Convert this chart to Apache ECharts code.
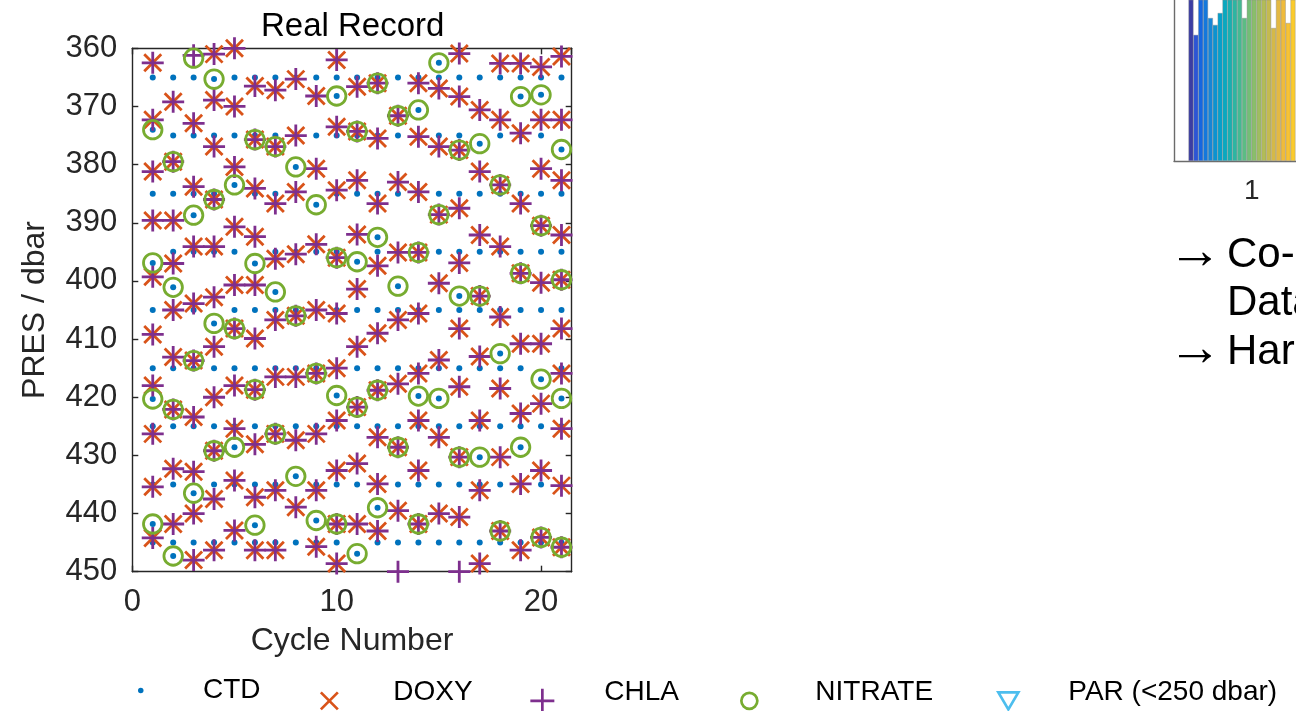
<!DOCTYPE html>
<html><head><meta charset="utf-8">
<script src="https://cdn.jsdelivr.net/npm/echarts@6/dist/echarts.min.js"></script>
<style>html,body{margin:0;padding:0;background:#fff}#c{width:1296px;height:711px}</style>
</head><body><div id="c"></div>
<script>
// ---------------- data ----------------
const cycles = [1,2,3,4,5,6,7,8,9,10,11,12,13,14,15,16,17,18,19,20,21];
const ctdPres = [
 [365,374,385,396.9,405,415,420.3,425,435,441.8,445],
 [365,375,385,395,401.1,405,415,425,435,445,447.3],
 [365,375,385,388.7,395,405,415,425,436.5,445],
 [365.3,375,385,395,407.3,415,425,435,445],
 [365,375,383.5,395,405,415,425,428.6,435,445],
 [365,375,385,397,405,415,425,435,442,445],
 [365,375,385,395,401.9,405,415,425,435,445],
 [365,375,380.4,385,395,405,415,425,433.6,445],
 [365,375,386.9,395,405,415,425,435,441.2,445],
 [365,368.2,375,385,395,405,415,419.7,425,435,445],
 [365,375,385,396.7,405,415,425,435,446.9],
 [365,375,385,392.5,395,405,415,425,435,439,445],
 [365,375,385,395,400.9,405,415,425,435,445],
 [365,370.6,375,385,395,405,415,419.8,425,435,445],
 [362.5,365,375,385,395,405,415,420.2,425,435,445],
 [365,375,385,395,402.6,405,415,425,435,445],
 [365,376.4,385,395,405,415,425,430.3,435,445],
 [365,375,385,395,405,412.5,415,425,435,445],
 [365,368.3,375,385,395,405,415,425,428.6,435,445],
 [365,368,375,385,395,405,416.9,425,435,445],
 [365,377.4,385,395,405,415,420.2,425,435,445]
];
const doxyPres = [
 [362.5,372.3,381.2,389.6,399.3,409.2,418,426.3,435.4,444.2],
 [369.2,379.5,389.6,397,405,413.1,422.1,432.3,441.8],
 [372.9,383.8,394.1,403.9,413.7,423.4,432.8,440,448],
 [361,368.9,376.9,386,394.1,402.8,411.3,420,429.2,437.5,446.3],
 [360,370,380.4,390.7,400.7,408.2,418,425.4,434.3,442.9],
 [366.5,375.7,384.1,392.4,400.7,409.9,418.7,428.1,437.2,446.3],
 [367.2,376.9,386.7,396.2,406.7,416.5,426.3,436,446.3],
 [365.3,375,384.7,395.4,406,416.5,427.4,438.9],
 [368.2,380.7,393.7,405,415.9,426.3,436,445.7],
 [362,373.5,384.4,396,405.6,415,424,432.6,441.8,448.6],
 [366.6,374.3,382.7,392,401.4,411.3,421.7,431.4,441.8],
 [366,375.5,386.7,397.4,409,418.8,426.9,434.9,443],
 [371.6,383,395.1,406.7,417.7,428.6,439.5],
 [366,375.2,384.7,395.1,405.6,415.9,424,432.6,441.8],
 [366.9,376.9,388.6,400.4,413.6,426.9,440],
 [360.9,368.3,377.5,387.5,396.9,408.2,418.2,430.3,440.6],
 [370.6,381.2,392.1,402.6,413,424,436,448.6],
 [362.6,372.3,383.5,394.1,406.2,418.5,430.3,443],
 [362.6,374.6,386.7,398.7,410.8,422.8,434.9,446.3],
 [363.2,372.3,380.7,390.5,400.3,410.8,421.1,432.6,444.1],
 [361.4,372.3,382.7,392.1,399.8,408.2,415.9,425.4,435.2,445.8]
];
const chlaPres = [
 [362.5,372.3,381.2,389.6,399.3,409.2,418,426.3,435.4,444.2],
 [369.2,379.5,389.6,397,405,413.1,422.1,432.3,441.8],
 [361.2,372.9,383.8,394.1,403.9,413.7,423.4,432.8,440,448],
 [361,368.9,376.9,386,394.1,402.8,411.3,420,429.2,437.5,446.3],
 [360,370,380.4,390.7,400.7,408.2,418,425.4,434.3,442.9],
 [366.5,375.7,384.1,392.4,400.7,409.9,418.7,428.1,437.2,446.3],
 [367.2,376.9,386.7,396.2,406.7,416.5,426.3,436,446.3],
 [365.3,375,384.7,395.4,406,416.5,427.4,438.9],
 [368.2,380.7,393.7,405,415.9,426.3,436,445.7],
 [362,373.5,384.4,396,405.6,415,424,432.6,441.8,448.6],
 [366.6,374.3,382.7,392,401.4,411.3,421.7,431.4,441.8],
 [366,375.5,386.7,397.4,409,418.8,426.9,434.9,443],
 [371.6,383,395.1,406.7,417.7,428.6,439.5,450],
 [366,375.2,384.7,395.1,405.6,415.9,424,432.6,441.8],
 [366.9,376.9,388.6,400.4,413.6,426.9,440],
 [360.9,368.3,377.5,387.5,396.9,408.2,418.2,430.3,440.6,450],
 [370.6,381.2,392.1,402.6,413,424,436,448.6],
 [362.6,372.3,383.5,394.1,406.2,418.5,430.3,443],
 [362.6,374.6,386.7,398.7,410.8,422.8,434.9,446.3],
 [363.2,372.3,380.7,390.5,400.3,410.8,421.1,432.6,444.1],
 [361.4,372.3,382.7,392.1,399.8,408.2,415.9,425.4,435.2,445.8]
];
const nitratePres = [
 [374,396.9,420.3,441.8],
 [379.5,401.1,422.1,447.3],
 [361.7,388.7,413.7,436.5],
 [365.3,386,407.3,429.2],
 [383.5,408.2,428.6],
 [375.7,397,418.7,442],
 [376.9,401.9,426.3],
 [380.4,406,433.6],
 [386.9,415.9,441.2],
 [368.2,396,419.7,441.8],
 [374.3,396.7,421.7,446.9],
 [366,392.5,418.8,439],
 [371.6,400.9,428.6],
 [370.6,395.1,419.8,441.8],
 [362.5,388.6,420.2],
 [377.5,402.6,430.3],
 [376.4,402.6,430.3],
 [383.5,412.5,443],
 [368.3,398.7,428.6],
 [368,390.5,416.9,444.1],
 [377.4,399.8,420.2,445.8]
];
const parPres = []; // PAR only sampled above 250 dbar: none in 360-450
const seriesNames = ['CTD','DOXY','CHLA','NITRATE','PAR (<250 dbar)'];
const yTickLabels = [360,370,380,390,400,410,420,430,440,450];
const xTickLabels = [0,10,20];

// clipped neighbouring histogram (right edge of slide)
const histBinCenters = [0.21875,0.28125,0.34375,0.40625,0.46875,0.53125,0.59375,0.65625,0.71875,0.78125,0.84375,0.90625,0.96875,1.03125,1.09375,1.15625,1.21875,1.28125,1.34375,1.40625,1.46875,1.53125];
const histCounts = [110,78.3,110,110,88.8,84.5,91.9,110,110,110,110,88.8,110,110,110,110,110,82.6,110,110,85.7,110];
const histColors = ['#3b3da3','#2c55d6','#1567e0','#1378dc','#1686d6','#0b93d0','#05a0cb','#08a9c0','#19afb1','#2db5a2','#44b992','#5cbc84','#74be76','#8abe6a','#9fbd60','#b2bc57','#c4ba4f','#d4b948','#e3b942','#efbb3c','#f7c234','#fbcb2c'];

// ---------------- build ----------------
function pairs(list){ const out=[]; list.forEach((ps,i)=>ps.forEach(p=>out.push([cycles[i],p]))); return out; }
const FONT = "'Liberation Sans', Arial, Helvetica, sans-serif";
const C = {ctd:'#0072BD', doxy:'#D95319', chla:'#7E2F8E', nit:'#77AC30', par:'#4DBEEE'};
const AX = '#262626';
const SYM = {
  x: 'path://M0,0L10,10M10,0L0,10',
  plus: 'path://M5,0L5,10M0,5L10,5',
  tri: 'path://M0,0L20,0L10,17Z'
};
// legend icons: same shapes with blank headroom so the label sits a little higher than the marker
const LEG = {
  x: 'path://M0,0M0,10.59L10,20.59M10,10.59L0,20.59',
  plus: 'path://M5,0M5,7.5L5,17.5M0,12.5L10,12.5',
  circ: 'path://M5,0M0,16.25A5,5 0 1,0 10,16.25A5,5 0 1,0 0,16.25Z',
  tri: 'path://M10,0M0,18L20,18L10,35Z'
};
const chart = echarts.init(document.getElementById('c'), null, {renderer:'canvas'});
const gridL = 132.3, gridT = 48.3, gridW = 439.4, gridH = 523.4;

function mkLegend(name, icon, color, left, top, itemWidth, itemHeight){
  const item = {name:name};
  if (icon) { item.icon = icon; item.itemStyle = {color:'transparent', borderColor:color, borderWidth:2.7, opacity:1}; }
  else { item.itemStyle = {color:color, borderWidth:0, opacity:1}; }
  return {
    data:[item], left:left, top:top, padding:0, itemWidth:itemWidth, itemHeight:itemHeight,
    selectedMode:false, orient:'horizontal',
    textStyle:{fontSize:28, lineHeight:28, color:'#000', fontFamily:FONT}
  };
}

const option = {
  animation:false,
  backgroundColor:'#fff',
  title:{text:'Real Record', left:261, top:10, padding:0,
    textStyle:{fontSize:33, lineHeight:33, fontWeight:'normal', color:'#000', fontFamily:FONT}},
  legend:[
    mkLegend('CTD', null, C.ctd, 138, 676.5, 114.6, 5.5),
    mkLegend('DOXY', LEG.x, C.doxy, 319.5, 673, 118, 35),
    mkLegend('CHLA', LEG.plus, C.chla, 529, 669.5, 114, 42),
    mkLegend('NITRATE', LEG.circ, C.nit, 740, 673.5, 122, 34),
    mkLegend('PAR (<250 dbar)', LEG.tri, C.par, 997, 673, 110, 35)
  ],
  grid:[
    {left:gridL, top:gridT, width:gridW, height:gridH, containLabel:false},
    {left:1174, top:0, right:0, height:161, containLabel:false}
  ],
  xAxis:[
    {gridIndex:0, type:'value', min:0, max:21.5, interval:10, position:'bottom',
     name:'Cycle Number', nameLocation:'middle', nameGap:53.5,
     nameTextStyle:{fontSize:32, lineHeight:32, color:AX, fontFamily:FONT},
     axisLine:{onZero:false, lineStyle:{color:AX, width:1.4}},
     axisTick:{inside:true, length:6, lineStyle:{color:AX, width:1.4}},
     axisLabel:{fontSize:31, lineHeight:31, color:AX, fontFamily:FONT, margin:15.5, showMaxLabel:false,
       formatter:(v)=> xTickLabels.indexOf(v)>=0 ? String(v) : ''},
     splitLine:{show:false}},
    {gridIndex:0, type:'value', min:0, max:21.5, interval:10, position:'top',
     axisLine:{onZero:false, lineStyle:{color:AX, width:1.4}},
     axisTick:{inside:true, length:6, lineStyle:{color:AX, width:1.4}},
     axisLabel:{show:false}, splitLine:{show:false}},
    {gridIndex:1, type:'value', min:0, max:1.5701, interval:1, position:'bottom',
     axisLine:{onZero:false, lineStyle:{color:'#6b6b6b', width:1.4}},
     axisTick:{show:false},
     axisLabel:{fontSize:28, lineHeight:28, color:AX, fontFamily:FONT, margin:16.5, showMinLabel:false, showMaxLabel:false},
     splitLine:{show:false}}
  ],
  yAxis:[
    {gridIndex:0, type:'value', inverse:true, min:360, max:450, interval:10, position:'left',
     name:'PRES / dbar', nameLocation:'middle', nameGap:81,
     nameTextStyle:{fontSize:32, lineHeight:32, color:AX, fontFamily:FONT},
     axisLine:{onZero:false, lineStyle:{color:AX, width:1.4}},
     axisTick:{inside:true, length:6, lineStyle:{color:AX, width:1.4}},
     axisLabel:{fontSize:31, lineHeight:31, color:AX, fontFamily:FONT, margin:15,
       formatter:(v)=> yTickLabels.indexOf(v)>=0 ? String(v) : ''},
     splitLine:{show:false}},
    {gridIndex:0, type:'value', inverse:true, min:360, max:450, interval:10, position:'right',
     axisLine:{onZero:false, lineStyle:{color:AX, width:1.4}},
     axisTick:{inside:true, length:6, lineStyle:{color:AX, width:1.4}},
     axisLabel:{show:false}, splitLine:{show:false}},
    {gridIndex:1, type:'value', min:0, max:100, position:'left',
     axisLine:{show:true, onZero:false, lineStyle:{color:'#6b6b6b', width:1.4}},
     axisTick:{show:false}, axisLabel:{show:false}, splitLine:{show:false}}
  ],
  series:[
    {name:seriesNames[0], type:'scatter', xAxisIndex:0, yAxisIndex:0, clip:false, silent:true,
     symbol:'circle', symbolSize:6, itemStyle:{color:C.ctd, opacity:1}, emphasis:{disabled:true},
     data:pairs(ctdPres)},
    {name:seriesNames[1], type:'scatter', xAxisIndex:0, yAxisIndex:0, clip:false, silent:true,
     symbol:SYM.x, symbolSize:17, itemStyle:{color:'transparent', borderColor:C.doxy, borderWidth:2.8, opacity:1},
     emphasis:{disabled:true}, data:pairs(doxyPres)},
    {name:seriesNames[2], type:'scatter', xAxisIndex:0, yAxisIndex:0, clip:false, silent:true,
     symbol:SYM.plus, symbolSize:22, itemStyle:{color:'transparent', borderColor:C.chla, borderWidth:2.8, opacity:1},
     emphasis:{disabled:true}, data:pairs(chlaPres)},
    {name:seriesNames[3], type:'scatter', xAxisIndex:0, yAxisIndex:0, clip:false, silent:true,
     symbol:'circle', symbolSize:18.5, itemStyle:{color:'transparent', borderColor:C.nit, borderWidth:2.8, opacity:1},
     emphasis:{disabled:true}, data:pairs(nitratePres)},
    {name:seriesNames[4], type:'scatter', xAxisIndex:0, yAxisIndex:0, clip:false, silent:true,
     symbol:SYM.tri, symbolSize:[20,17], itemStyle:{color:'transparent', borderColor:C.par, borderWidth:2.8, opacity:1},
     emphasis:{disabled:true}, data:parPres.map((p)=>[0,p])},
    {name:'hist', type:'bar', xAxisIndex:2, yAxisIndex:2, clip:true, silent:true, barWidth:4.86,
     emphasis:{disabled:true},
     data:histCounts.map((v,i)=>({value:[histBinCenters[i], v],
       itemStyle:{color:histColors[i], borderColor:'#8a8a8a', borderWidth:0.4}}))}
  ],
  graphic:[
    {type:'text', x:1168, y:253, silent:true, style:{text:'→', fontSize:54, fontFamily:FONT, fill:'#000', verticalAlign:'middle'}},
    {type:'text', x:1227, y:255, silent:true, style:{text:'Co-', fontSize:42, fontFamily:FONT, fill:'#000', verticalAlign:'middle'}},
    {type:'text', x:1227, y:303, silent:true, style:{text:'Data', fontSize:42, fontFamily:FONT, fill:'#000', verticalAlign:'middle'}},
    {type:'text', x:1168, y:350, silent:true, style:{text:'→', fontSize:54, fontFamily:FONT, fill:'#000', verticalAlign:'middle'}},
    {type:'text', x:1227, y:352, silent:true, style:{text:'Har', fontSize:42, fontFamily:FONT, fill:'#000', verticalAlign:'middle'}}
  ]
};
chart.setOption(option);
</script>
</body></html>
